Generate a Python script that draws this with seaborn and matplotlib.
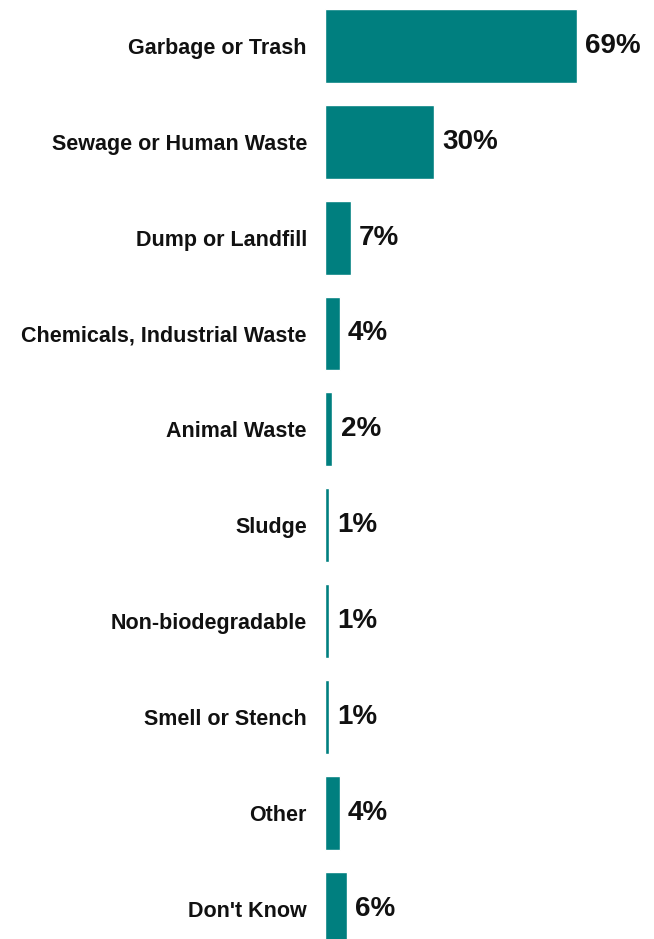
import seaborn as sns
import matplotlib.pyplot as plt
import pandas as pd

sns.set_style("white")
plt.rcParams["font.family"] = ["Liberation Sans", "DejaVu Sans"]

categories = ["Garbage or Trash", "Sewage or Human Waste", "Dump or Landfill",
              "Chemicals, Industrial Waste", "Animal Waste", "Sludge",
              "Non-biodegradable", "Smell or Stench", "Other", "Don't Know"]
values = [69, 30, 7, 4, 2, 1, 1, 1, 4, 6]

df = pd.DataFrame({"category": categories, "pct": values})

fig = plt.figure(figsize=(6.54, 9.39), dpi=100)
ax = fig.add_axes([325 / 654, 0, 329 / 654, 1])

sns.barplot(data=df, x="pct", y="category", color="#007F7F", saturation=1,
            width=0.77, ax=ax)

# pixel-based scale: 3.648 px per percent, bar pitch ~95.9 px
ax.set_xlim(0, 329 / 3.648)
ax.set_ylim((939 - 45.8) / 95.9, -45.8 / 95.9)

for i, v in enumerate(values):
    ax.annotate(f"{v}%", xy=(v, i), xytext=(6, 0), textcoords="offset points",
                ha="left", va="center", fontsize=20, fontweight="bold",
                color="#111111")

ax.set_xlabel("")
ax.set_ylabel("")
ax.set_xticks([])
ax.tick_params(axis="y", length=0, pad=13)
for lbl in ax.get_yticklabels():
    lbl.set_fontsize(15.5)
    lbl.set_fontweight("bold")
    lbl.set_color("#111111")
sns.despine(ax=ax, left=True, bottom=True)

fig.savefig("out.png", dpi=100)
plt.close(fig)
